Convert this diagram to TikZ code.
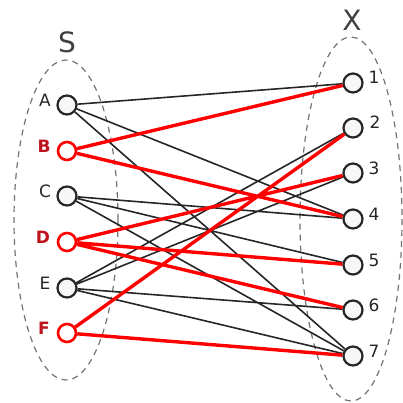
\documentclass[tikz,border=0pt]{standalone}
\usepackage{fontspec}
\setmainfont{DejaVu Sans}
\begin{document}
\begin{tikzpicture}[x=1pt,y=-1pt,
  vtx/.style={circle,draw=black!85,line width=2.2pt,fill=black!3,minimum size=19pt,inner sep=0pt},
  rvtx/.style={circle,draw=red,line width=2.6pt,fill=white,minimum size=18pt,inner sep=0pt},
  blk/.style={draw=black!85,line width=1.6pt},
  red/.style={draw=red,line width=3.4pt},
  lbl/.style={font=\fontsize{17}{17}\selectfont,text=black!85,inner sep=0pt},
  rlbl/.style={font=\fontsize{17}{17}\selectfont\bfseries,text={rgb,255:red,190;green,20;blue,30},inner sep=0pt},
  setl/.style={font=\fontsize{28}{28}\selectfont,text=black!75,inner sep=0pt},
  grp/.style={draw=black!55,line width=1.2pt,dash pattern=on 6pt off 5pt}
]
\useasboundingbox (0,0) rectangle (402,403);
\draw[grp] (66,220) ellipse [x radius=52,y radius=160];
\draw[grp] (351,219) ellipse [x radius=51,y radius=182];
\node[setl] (S) at (67,42) {S};
\node[setl] (X) at (352,20) {X};
% left vertices
\node[vtx] (A) at (67,105) {};
\node[rvtx] (B) at (67,151) {};
\node[vtx] (C) at (67,196) {};
\node[rvtx] (D) at (67,242) {};
\node[vtx] (E) at (67,288) {};
\node[rvtx] (F) at (67,333) {};
% right vertices
\node[vtx] (n1) at (353,83) {};
\node[vtx] (n2) at (353,128) {};
\node[vtx] (n3) at (353,173) {};
\node[vtx] (n4) at (353,219) {};
\node[vtx] (n5) at (353,265) {};
\node[vtx] (n6) at (353,310) {};
\node[vtx] (n7) at (353,356) {};
% labels
\node[lbl] (lA) at (45,100) {A};
\node[rlbl] (lB) at (44,146) {B};
\node[lbl] (lC) at (45,191) {C};
\node[rlbl] (lD) at (43,237) {D};
\node[lbl] (lE) at (45,283) {E};
\node[rlbl] (lF) at (44,328) {F};
\node[lbl] (l1) at (374,77) {1};
\node[lbl] (l2) at (375,122) {2};
\node[lbl] (l3) at (374,168) {3};
\node[lbl] (l4) at (374,214) {4};
\node[lbl] (l5) at (374,260) {5};
\node[lbl] (l6) at (374,305) {6};
\node[lbl] (l7) at (374,351) {7};
% edges
\path[blk] (A) -- (n1) (A) -- (n4) (A) -- (n7)
  (C) -- (n4) (C) -- (n5) (C) -- (n7)
  (E) -- (n2) (E) -- (n3) (E) -- (n6) (E) -- (n7);
\path[red] (B) -- (n1) (B) -- (n4)
  (D) -- (n3) (D) -- (n5) (D) -- (n6)
  (F) -- (n2) (F) -- (n7);
\end{tikzpicture}
\end{document}
